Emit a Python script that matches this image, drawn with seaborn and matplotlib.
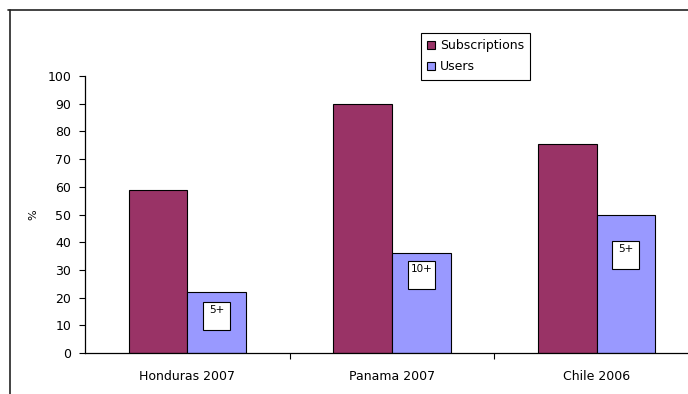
import matplotlib
matplotlib.use("Agg")
import matplotlib.pyplot as plt
from matplotlib.lines import Line2D
from matplotlib.patches import Rectangle
from matplotlib.ticker import FixedLocator, MultipleLocator
import pandas as pd
import seaborn as sns

# Mobile phone penetration by country/year
countries = ["Honduras 2007", "Panama 2007", "Chile 2006"]
subscriptions = [59, 90, 75.5]
users = [22, 36, 50]
user_age_labels = ["5+", "10+", "5+"]
series_names = ["Subscriptions", "Users"]
series_colors = ["#993366", "#9999FF"]

df = pd.DataFrame({
    "country": countries * 2,
    "pct": subscriptions + users,
    "series": [series_names[0]] * len(countries) + [series_names[1]] * len(countries),
})

sns.set_style("white")
plt.rcParams["font.family"] = ["DejaVu Sans"]
plt.rcParams["text.color"] = "black"
plt.rcParams["axes.labelcolor"] = "black"
plt.rcParams["xtick.color"] = "black"
plt.rcParams["ytick.color"] = "black"

fig = plt.figure(figsize=(6.88, 3.94), dpi=100)
ax = fig.add_axes([0.1235, 0.104, 0.8925, 0.703])

group_width = 0.572
sns.barplot(
    data=df, x="country", y="pct", hue="series",
    palette=series_colors, width=group_width, dodge=True,
    edgecolor="black", linewidth=0.8, saturation=1, ax=ax,
)

# Age-group tags drawn as small white boxes inside the Users bars
tag_tops = [18.3, 33.1, 40.4]
box_w = 0.132
box_h = 10.1
bar_w = group_width / 2
for i, (label, top) in enumerate(zip(user_age_labels, tag_tops)):
    cx = i + bar_w / 2
    ax.add_patch(Rectangle((cx - box_w / 2, top - box_h), box_w, box_h,
                           facecolor="white", edgecolor="black", linewidth=0.8, zorder=5))
    ax.text(cx, top - 2.9, label, ha="center", va="center", fontsize=7.5, zorder=6)

ax.set_xlim(-0.5, 2.5)
ax.set_ylim(0, 100)
ax.yaxis.set_major_locator(MultipleLocator(10))
ax.set_xlabel("")
ax.set_ylabel("%", fontsize=8, labelpad=6)

for side in ["top", "right"]:
    ax.spines[side].set_visible(False)
for side in ["left", "bottom"]:
    ax.spines[side].set_color("black")
    ax.spines[side].set_linewidth(0.9)

ax.tick_params(axis="y", which="major", direction="out", length=4, width=0.8,
               color="black", labelsize=9, pad=6, left=True)
ax.tick_params(axis="x", which="major", length=0, labelsize=9, pad=12)
ax.xaxis.set_minor_locator(FixedLocator([0.5, 1.5]))
ax.tick_params(axis="x", which="minor", direction="out", length=4, width=0.8,
               color="black", bottom=True)

handles, labels = ax.get_legend_handles_labels()
for h in handles:
    h.set_edgecolor("black")
    h.set_linewidth(0.8)
leg = ax.legend(handles, labels, loc="upper left",
                bbox_to_anchor=(420.7 / 688, 1 - 33 / 394),
                bbox_transform=fig.transFigure, fontsize=9, frameon=True,
                fancybox=False, edgecolor="black", framealpha=1,
                handlelength=0.65, handleheight=0.65, handletextpad=0.4,
                labelspacing=0.65, borderpad=0.5, borderaxespad=0)
leg.get_frame().set_linewidth(0.8)

# Outer chart frame (top and left edges)
fig.add_artist(Line2D([8 / 688, 1.0], [1 - 10 / 394, 1 - 10 / 394],
                      transform=fig.transFigure, color="#222222", linewidth=1.2))
fig.add_artist(Line2D([10 / 688, 10 / 688], [1 - 10 / 394, 0.0],
                      transform=fig.transFigure, color="#222222", linewidth=1.2))

fig.savefig("out.png", dpi=100)
